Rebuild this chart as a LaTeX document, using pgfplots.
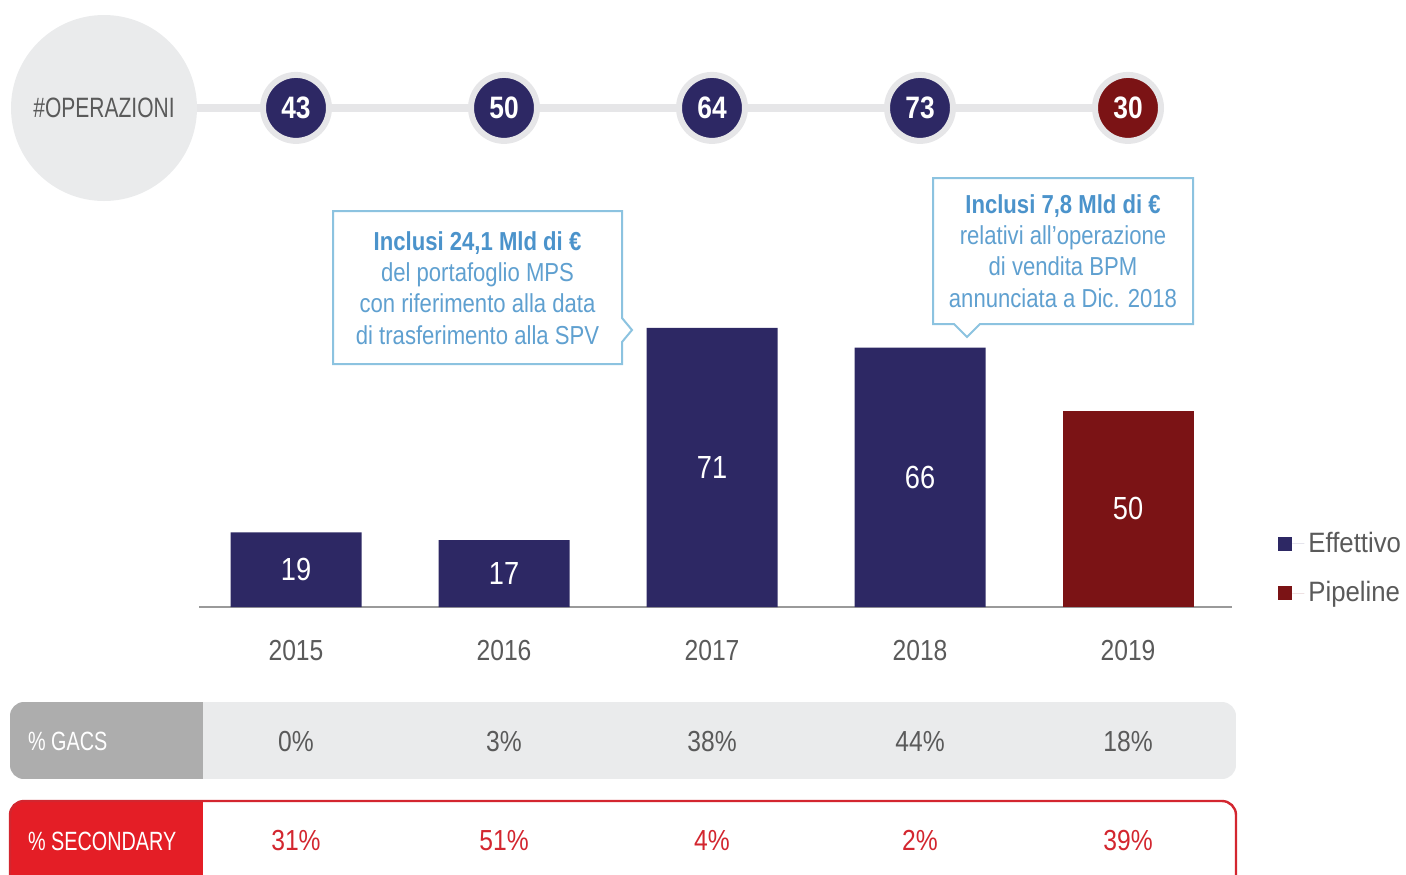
\documentclass[border=0pt]{standalone}
\usepackage{pgfplots}
\pgfplotsset{compat=1.18}
\usepackage{fontspec}
\setmainfont{Liberation Sans}[FakeStretch=0.85]
\newfontfamily\capsfont{Liberation Sans}[FakeStretch=0.75]
\newfontfamily\legfont{Liberation Sans}[FakeStretch=0.92]
\definecolor{navy}{HTML}{2D2864}
\definecolor{dred}{HTML}{7B1315}
\definecolor{ring}{HTML}{E6E6E8}
\definecolor{lgrey}{HTML}{EAEBEC}
\definecolor{txtgrey}{HTML}{5A5A5A}
\definecolor{cbord}{HTML}{8CC3E0}
\definecolor{ctext}{HTML}{5FA0D0}
\definecolor{cbold}{HTML}{4B93CB}
\definecolor{midgrey}{HTML}{ADADAD}
\definecolor{sred}{HTML}{E41E26}
\definecolor{vred}{HTML}{D3262F}
\definecolor{axgrey}{HTML}{9A9A9A}
\begin{document}
\begin{tikzpicture}
\begin{scope}[x=0.5pt,y=-0.5pt]
 % big circle and connecting line
 \fill[lgrey] (104,108) circle (46.5pt);
 \draw[ring, line width=4pt] (197,108) -- (1128,108);
 \node[text=txtgrey, font=\capsfont\fontsize{14}{16}\selectfont] at (104,108) {\#OPERAZIONI};
 % GACS row
 \begin{scope}
  \clip[rounded corners=7pt] (10,702) rectangle (1236,779);
  \fill[lgrey] (10,702) rectangle (1236,779);
  \fill[midgrey] (10,702) rectangle (203,779);
 \end{scope}
 \node[anchor=west, text=white, font=\capsfont\fontsize{13.2}{15}\selectfont] at (21,741) {\% GACS};
 % SECONDARY row
 \begin{scope}
  \clip[rounded corners=7pt] (10,801) rectangle (1236,910);
  \fill[white] (10,801) rectangle (1236,910);
  \fill[sred] (10,801) rectangle (203,910);
 \end{scope}
 \draw[vred, line width=1.2pt, rounded corners=7pt] (10,801) rectangle (1236,910);
 \node[anchor=west, text=white, font=\capsfont\fontsize{13.2}{15}\selectfont] at (21,841) {\% SECONDARY};
 % callout 1
 \filldraw[fill=white, draw=cbord, line width=1pt] (333,211) -- (622,211) -- (622,318) -- (632,330) -- (622,342) -- (622,364) -- (333,364) -- cycle;
 \node[align=center, text=ctext, font=\fontsize{13}{15.6}\selectfont] at (477.5,288)
   {{\bfseries\color{cbold}Inclusi 24,1 Mld di €}\\del portafoglio MPS\\con riferimento alla data\\di trasferimento alla SPV};
 % callout 2
 \filldraw[fill=white, draw=cbord, line width=1pt] (933,178) -- (1193,178) -- (1193,324) -- (980,324) -- (967,337) -- (954,324) -- (933,324) -- cycle;
 \node[align=center, text=ctext, font=\fontsize{13}{15.6}\selectfont] at (1063,251)
   {{\bfseries\color{cbold}Inclusi 7,8 Mld di €}\\relativi all’operazione\\di vendita BPM\\annunciata a Dic. 2018};
\end{scope}

\begin{axis}[
  at={(99.5pt,-303.5pt)}, anchor=south west,
  x=104pt, y=1.965pt,
  xmin=-0.46635, xmax=4.5, ymin=0, ymax=80,
  clip=false,
  /pgf/number format/assume math mode=true,
  axis x line*=bottom, axis y line=none,
  axis line style={draw=axgrey, line width=1pt},
  xtick={0,1,2,3,4}, xticklabels={2015,2016,2017,2018,2019},
  major tick length=0pt, ytick=\empty,
  xticklabel style={anchor=center, yshift=-21.75pt, text=txtgrey, font=\fontsize{14.5}{16}\selectfont},
  legend style={at={(1.0387,0.1225)}, anchor=west, draw=none, fill=none,
    font=\legfont\fontsize{14}{16}\selectfont, text=txtgrey, row sep=9pt},
  legend cell align=left,
]
\addplot[ybar, bar width=65.5pt, bar shift=0pt, fill=navy, draw=none,
  legend image code/.code={\fill[navy] (0pt,-3.5pt) rectangle (7pt,3.5pt); \path (7pt,0pt) -- (13pt,0pt);}]
  coordinates {(0,19) (1,17) (2,71) (3,66)};
\addlegendentry{Effettivo}
\addplot[ybar, bar width=65.5pt, bar shift=0pt, fill=dred, draw=none,
  legend image code/.code={\fill[dred] (0pt,-3.5pt) rectangle (7pt,3.5pt); \path (7pt,0pt) -- (13pt,0pt);}]
  coordinates {(4,50)};
\addlegendentry{Pipeline}
% bar value labels (centred in bars)
\addplot[forget plot, draw=none, mark=none, nodes near coords, point meta=\thisrow{v},
  every node near coord/.append style={anchor=center, text=white, font=\fontsize{16}{18}\selectfont}]
  table[x=x, y expr=\thisrow{v}/2] {
x v
0 19
1 17
2 71
3 66
4 50
};
% number of operations
\addplot[forget plot, only marks, mark=*, mark size=16.5pt,
  mark options={fill=navy, draw=ring, line width=3pt},
  nodes near coords, point meta=explicit,
  every node near coord/.append style={anchor=center, text=white, font=\bfseries\fontsize{15.5}{17}\selectfont}]
  coordinates {(0,127)[43] (1,127)[50] (2,127)[64] (3,127)[73]};
\addplot[forget plot, only marks, mark=*, mark size=16.5pt,
  mark options={fill=dred, draw=ring, line width=3pt},
  nodes near coords, point meta=explicit,
  every node near coord/.append style={anchor=center, text=white, font=\bfseries\fontsize{15.5}{17}\selectfont}]
  coordinates {(4,127)[30]};
% % GACS
\addplot[forget plot, draw=none, mark=none, nodes near coords={\pgfmathprintnumber{\pgfplotspointmeta}\%},
  point meta=explicit,
  every node near coord/.append style={anchor=center, text=txtgrey, font=\fontsize{14.5}{16}\selectfont}]
  coordinates {(0,-34.1)[0] (1,-34.1)[3] (2,-34.1)[38] (3,-34.1)[44] (4,-34.1)[18]};
% % SECONDARY
\addplot[forget plot, draw=none, mark=none, nodes near coords={\pgfmathprintnumber{\pgfplotspointmeta}\%},
  point meta=explicit,
  every node near coord/.append style={anchor=center, text=vred, font=\fontsize{14.5}{16}\selectfont}]
  coordinates {(0,-59.5)[31] (1,-59.5)[51] (2,-59.5)[4] (3,-59.5)[2] (4,-59.5)[39]};
\end{axis}
\pgfresetboundingbox
\path[use as bounding box] (0pt,0pt) rectangle (703pt,-437pt);
\end{tikzpicture}
\end{document}
